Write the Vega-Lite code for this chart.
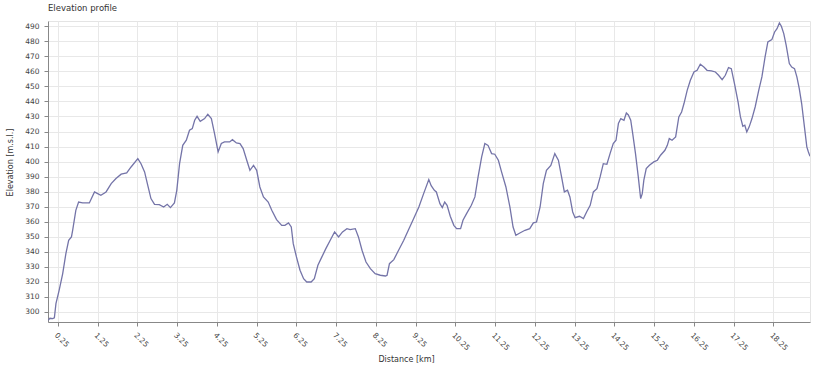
{
  "$schema": "https://vega.github.io/schema/vega-lite/v6.json",
  "autosize": {"type": "none"},
  "width": 762,
  "height": 301,
  "padding": {"left": 48, "top": 21, "right": 25, "bottom": 53},
  "background": "white",
  "title": {
    "text": "Elevation profile",
    "anchor": "start",
    "frame": "group",
    "font": "DejaVu Sans",
    "fontSize": 8.5,
    "fontWeight": "normal",
    "color": "#333333",
    "baseline": "alphabetic",
    "offset": 2
  },
  "config": {
    "view": {"stroke": "#e4e4e4"},
    "axis": {
      "labelFont": "DejaVu Sans",
      "labelFontSize": 7.5,
      "labelColor": "#444444",
      "titleFont": "DejaVu Sans",
      "titleFontSize": 8,
      "titleFontWeight": "normal",
      "titleColor": "#333333",
      "domainColor": "#888888",
      "tickColor": "#888888",
      "gridColor": "#e8e8e8",
      "gridWidth": 1,
      "tickSize": 4,
      "labelPadding": 5
    }
  },
  "data": {
    "values": [
      {"d": 0, "e": 294.5}, {"d": 0.05, "e": 295.8}, {"d": 0.12, "e": 295.5}, {"d": 0.16, "e": 296},
      {"d": 0.2, "e": 305.5}, {"d": 0.28, "e": 314.4}, {"d": 0.37, "e": 325.5}, {"d": 0.45, "e": 338.8},
      {"d": 0.52, "e": 347.6}, {"d": 0.59, "e": 349.9}, {"d": 0.62, "e": 354.3}, {"d": 0.7, "e": 367.6},
      {"d": 0.77, "e": 373.1}, {"d": 0.87, "e": 372.5}, {"d": 1.04, "e": 372.5}, {"d": 1.17, "e": 379.8},
      {"d": 1.25, "e": 378.7}, {"d": 1.33, "e": 377.6}, {"d": 1.46, "e": 379.8}, {"d": 1.59, "e": 385.3},
      {"d": 1.71, "e": 388.7}, {"d": 1.84, "e": 391.6}, {"d": 1.98, "e": 392.4}, {"d": 2.09, "e": 396.4},
      {"d": 2.26, "e": 402}, {"d": 2.34, "e": 398.6}, {"d": 2.43, "e": 393.1}, {"d": 2.51, "e": 384.2},
      {"d": 2.59, "e": 375.4}, {"d": 2.68, "e": 371.6}, {"d": 2.8, "e": 371.4}, {"d": 2.91, "e": 369.8},
      {"d": 3.0, "e": 371.6}, {"d": 3.08, "e": 369.4}, {"d": 3.18, "e": 372.5}, {"d": 3.24, "e": 380.9},
      {"d": 3.31, "e": 398.6}, {"d": 3.39, "e": 410.8}, {"d": 3.48, "e": 414.2}, {"d": 3.56, "e": 420.8},
      {"d": 3.63, "e": 421.9}, {"d": 3.69, "e": 427.5}, {"d": 3.75, "e": 430.1}, {"d": 3.83, "e": 426.8},
      {"d": 3.94, "e": 428.6}, {"d": 4.02, "e": 431.5}, {"d": 4.11, "e": 428.6}, {"d": 4.19, "e": 418.6},
      {"d": 4.28, "e": 406.4}, {"d": 4.36, "e": 412}, {"d": 4.44, "e": 413.1}, {"d": 4.57, "e": 413.1},
      {"d": 4.64, "e": 414.6}, {"d": 4.74, "e": 412.4}, {"d": 4.83, "e": 412}, {"d": 4.91, "e": 408.6},
      {"d": 5.0, "e": 400.9}, {"d": 5.08, "e": 394.2}, {"d": 5.17, "e": 397.5}, {"d": 5.25, "e": 394.2},
      {"d": 5.33, "e": 383.1}, {"d": 5.42, "e": 376.5}, {"d": 5.54, "e": 373.1}, {"d": 5.63, "e": 367.6},
      {"d": 5.75, "e": 361.4}, {"d": 5.88, "e": 357.6}, {"d": 5.96, "e": 357.6}, {"d": 6.05, "e": 359.2},
      {"d": 6.12, "e": 356.5}, {"d": 6.17, "e": 345.4}, {"d": 6.25, "e": 336.6}, {"d": 6.34, "e": 327.7},
      {"d": 6.43, "e": 322.1}, {"d": 6.51, "e": 319.9}, {"d": 6.62, "e": 319.9}, {"d": 6.7, "e": 322.1},
      {"d": 6.79, "e": 331}, {"d": 6.89, "e": 336.6}, {"d": 6.99, "e": 342.1}, {"d": 7.1, "e": 347.7},
      {"d": 7.21, "e": 353.2}, {"d": 7.31, "e": 349.9}, {"d": 7.41, "e": 353.2}, {"d": 7.52, "e": 355.4},
      {"d": 7.6, "e": 354.7}, {"d": 7.73, "e": 355.4}, {"d": 7.81, "e": 349.9}, {"d": 7.9, "e": 341},
      {"d": 8.0, "e": 333.2}, {"d": 8.11, "e": 328.8}, {"d": 8.23, "e": 325.5}, {"d": 8.36, "e": 324.4},
      {"d": 8.49, "e": 323.9}, {"d": 8.53, "e": 324.4}, {"d": 8.59, "e": 332.1}, {"d": 8.7, "e": 334.8},
      {"d": 8.82, "e": 341}, {"d": 8.95, "e": 347.7}, {"d": 9.07, "e": 354.7}, {"d": 9.2, "e": 362.1},
      {"d": 9.33, "e": 369.8}, {"d": 9.45, "e": 378.7}, {"d": 9.58, "e": 388}, {"d": 9.64, "e": 384},
      {"d": 9.72, "e": 380.9}, {"d": 9.77, "e": 379.8}, {"d": 9.86, "e": 372}, {"d": 9.92, "e": 369.4},
      {"d": 9.98, "e": 373.1}, {"d": 10.04, "e": 370.9}, {"d": 10.12, "e": 363.6}, {"d": 10.21, "e": 357.6},
      {"d": 10.28, "e": 355.4}, {"d": 10.38, "e": 355.4}, {"d": 10.44, "e": 361}, {"d": 10.53, "e": 365.4},
      {"d": 10.65, "e": 370.9}, {"d": 10.74, "e": 376.5}, {"d": 10.82, "e": 389.8}, {"d": 10.91, "e": 403.1},
      {"d": 10.99, "e": 412}, {"d": 11.07, "e": 410.8}, {"d": 11.16, "e": 405.3}, {"d": 11.24, "e": 404.9},
      {"d": 11.33, "e": 400.9}, {"d": 11.41, "e": 393.1}, {"d": 11.52, "e": 383.1}, {"d": 11.62, "e": 369.8},
      {"d": 11.7, "e": 356.5}, {"d": 11.77, "e": 351}, {"d": 11.87, "e": 352.5}, {"d": 12.0, "e": 354.3},
      {"d": 12.12, "e": 355.4}, {"d": 12.21, "e": 359.2}, {"d": 12.29, "e": 359.8}, {"d": 12.38, "e": 369.8},
      {"d": 12.46, "e": 385.3}, {"d": 12.54, "e": 394.2}, {"d": 12.65, "e": 397.5}, {"d": 12.75, "e": 405.3},
      {"d": 12.84, "e": 400.9}, {"d": 12.92, "e": 389.8}, {"d": 12.99, "e": 379.8}, {"d": 13.07, "e": 380.9},
      {"d": 13.13, "e": 376.5}, {"d": 13.2, "e": 366.5}, {"d": 13.26, "e": 362.7}, {"d": 13.37, "e": 363.6},
      {"d": 13.47, "e": 362.1}, {"d": 13.55, "e": 366.5}, {"d": 13.64, "e": 370.9}, {"d": 13.72, "e": 379.8},
      {"d": 13.81, "e": 382}, {"d": 13.89, "e": 389.8}, {"d": 13.97, "e": 398.6}, {"d": 14.06, "e": 398.2},
      {"d": 14.14, "e": 405.3}, {"d": 14.22, "e": 412}, {"d": 14.29, "e": 414.2}, {"d": 14.35, "e": 425.3},
      {"d": 14.41, "e": 428.6}, {"d": 14.49, "e": 427.5}, {"d": 14.55, "e": 432.3}, {"d": 14.6, "e": 431},
      {"d": 14.66, "e": 427.5}, {"d": 14.71, "e": 418.6}, {"d": 14.78, "e": 405.3}, {"d": 14.85, "e": 389.8},
      {"d": 14.91, "e": 375.4}, {"d": 14.95, "e": 378.7}, {"d": 14.99, "e": 387.6}, {"d": 15.05, "e": 395.3},
      {"d": 15.13, "e": 397.5}, {"d": 15.24, "e": 399.8}, {"d": 15.33, "e": 400.9}, {"d": 15.41, "e": 404.2},
      {"d": 15.52, "e": 407.5}, {"d": 15.58, "e": 410.8}, {"d": 15.63, "e": 415.3}, {"d": 15.7, "e": 414.2},
      {"d": 15.79, "e": 416.4}, {"d": 15.87, "e": 429.7}, {"d": 15.94, "e": 433}, {"d": 16.0, "e": 438.6},
      {"d": 16.08, "e": 447.4}, {"d": 16.16, "e": 454.1}, {"d": 16.25, "e": 459.6}, {"d": 16.33, "e": 460.7},
      {"d": 16.41, "e": 464.7}, {"d": 16.5, "e": 462.9}, {"d": 16.58, "e": 460.7}, {"d": 16.69, "e": 460.3},
      {"d": 16.79, "e": 459.6}, {"d": 16.87, "e": 457.4}, {"d": 16.96, "e": 454.5}, {"d": 17.04, "e": 457.4},
      {"d": 17.12, "e": 462.5}, {"d": 17.19, "e": 461.8}, {"d": 17.27, "e": 451.9}, {"d": 17.36, "e": 439.7},
      {"d": 17.42, "e": 429.7}, {"d": 17.48, "e": 423.5}, {"d": 17.53, "e": 424.2}, {"d": 17.58, "e": 419.7},
      {"d": 17.64, "e": 423.1}, {"d": 17.71, "e": 428.6}, {"d": 17.79, "e": 436.3}, {"d": 17.88, "e": 447.4},
      {"d": 17.96, "e": 456.3}, {"d": 18.04, "e": 469.6}, {"d": 18.11, "e": 479.6}, {"d": 18.21, "e": 481.1},
      {"d": 18.28, "e": 486.2}, {"d": 18.34, "e": 488.4}, {"d": 18.4, "e": 492.2}, {"d": 18.45, "e": 490},
      {"d": 18.51, "e": 485.1}, {"d": 18.57, "e": 477.4}, {"d": 18.65, "e": 465.2}, {"d": 18.71, "e": 462.9},
      {"d": 18.78, "e": 461.8}, {"d": 18.84, "e": 456.3}, {"d": 18.9, "e": 448.5}, {"d": 18.96, "e": 438.6},
      {"d": 19.03, "e": 423.1}, {"d": 19.09, "e": 409.8}, {"d": 19.13, "e": 406.4}, {"d": 19.17, "e": 403.5}
    ]
  },
  "mark": {"type": "line", "color": "#7474a8", "strokeWidth": 1.3, "clip": true},
  "encoding": {
    "x": {
      "field": "d",
      "type": "quantitative",
      "scale": {"domain": [0, 19.17], "nice": false, "zero": false},
      "axis": {
        "title": "Distance [km]",
        "values": [0.25, 1.25, 2.25, 3.25, 4.25, 5.25, 6.25, 7.25, 8.25, 9.25, 10.25, 11.25, 12.25, 13.25, 14.25, 15.25, 16.25, 17.25, 18.25],
        "format": ".2f",
        "labelAngle": 45,
        "labelAlign": "left",
        "labelBaseline": "top",
        "labelOverlap": false,
        "titleX": 358,
        "titleY": 37,
        "titleBaseline": "middle",
        "titleAlign": "center"
      }
    },
    "y": {
      "field": "e",
      "type": "quantitative",
      "scale": {"domain": [293.3, 493.5], "nice": false, "zero": false},
      "axis": {
        "title": "Elevation [m.s.l.]",
        "values": [300, 310, 320, 330, 340, 350, 360, 370, 380, 390, 400, 410, 420, 430, 440, 450, 460, 470, 480, 490],
        "labelOverlap": false,
        "titleX": -38,
        "titleY": 141,
        "titleBaseline": "middle",
        "titleAlign": "center",
        "titleAngle": -90
      }
    }
  }
}
